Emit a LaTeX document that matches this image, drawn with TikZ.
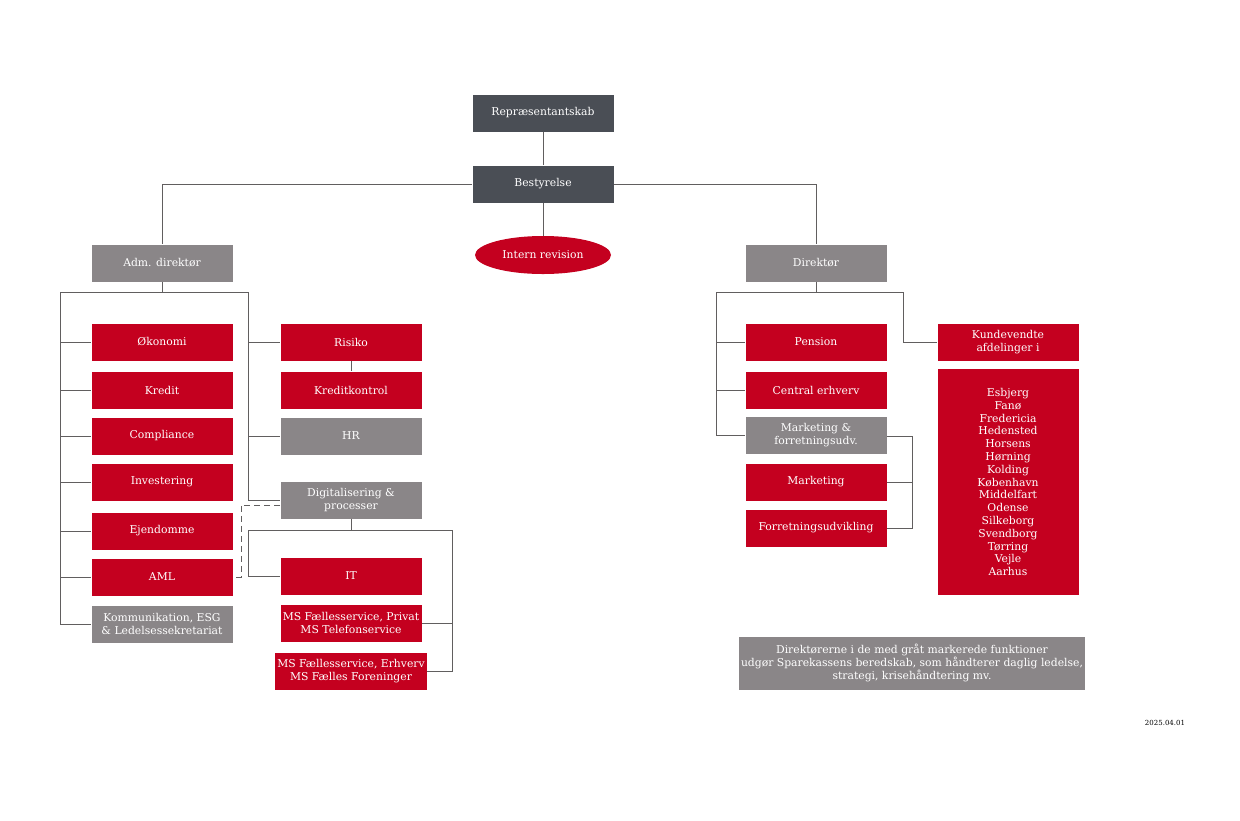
\documentclass[tikz,border=0pt]{standalone}
\usepackage{fontspec}
\setmainfont{DejaVu Serif}
\usetikzlibrary{positioning, shapes}
\definecolor{sred}{HTML}{C4001F}
\definecolor{sdark}{HTML}{4A4E55}
\definecolor{sgray}{HTML}{8A8688}
\begin{document}
\begin{tikzpicture}[x=0.5pt, y=-0.5pt, font=\fontsize{5.4}{6.4}\selectfont]
 \tikzstyle{box}=[rectangle, minimum width=70.5pt, minimum height=18.5pt, inner sep=1pt, text=white, align=center]
 \tikzstyle{rbox}=[box, fill=sred]
 \tikzstyle{gbox}=[box, fill=sgray]
 \tikzstyle{dbox}=[box, fill=sdark]
 \tikzstyle{line}=[draw, sgray!70!black, line width=0.35pt]

 \useasboundingbox (0,0) rectangle (1240,820);

 % top
 \node[dbox] (rep) at (543,113) {Repræsentantskab};
 \node[dbox] (bes) at (543,184) {Bestyrelse};
 \node[ellipse, fill=sred, text=white, minimum width=68pt, minimum height=19pt, inner sep=0pt] (rev) at (543,255) {Intern revision};
 \node[gbox] (adm) at (162,263) {Adm. direktør};
 \node[gbox] (dir) at (816,263) {Direktør};
 \path[line] (rep) -- (bes);
 \path[line] (bes) -- (rev);
 \path[line] (bes.west) -| (adm.north);
 \path[line] (bes.east) -| (dir.north);

 % left column
 \node[rbox] (oko) at (162,342) {Økonomi};
 \node[rbox] (kre) at (162,390) {Kredit};
 \node[rbox] (com) at (162,436) {Compliance};
 \node[rbox] (inv) at (162,482) {Investering};
 \node[rbox] (ejd) at (162,531) {Ejendomme};
 \node[rbox] (aml) at (162,577) {AML};
 \node[gbox] (kom) at (162,624) {Kommunikation, ESG\\\& Ledelsessekretariat};

 % middle column
 \node[rbox] (ris) at (351,342) {Risiko};
 \node[rbox] (kk) at (351,390) {Kreditkontrol};
 \node[gbox] (hr) at (351,436) {HR};
 \node[gbox] (dig) at (351,500) {Digitalisering \&\\processer};
 \node[rbox] (it) at (351,576) {IT};
 \node[rbox] (msp) at (351,623) {MS Fællesservice, Privat\\MS Telefonservice};
 \node[rbox] (mse) at (351,671) {MS Fællesservice, Erhverv\\MS Fælles Foreninger};

 \coordinate (a1) at (162,292);
 \coordinate (aL) at (60,292);
 \coordinate (aR) at (248,292);
 \path[line] (adm.south) -- (a1);
 \path[line] (aL) -- (aR);
 \path[line] (aL) |- (kom.west);
 \foreach \n in {oko,kre,com,inv,ejd,aml}
  \path[line] (aL |- \n.west) -- (\n.west);
 \path[line] (aR) |- (dig.west);
 \foreach \n in {ris,hr}
  \path[line] (aR |- \n.west) -- (\n.west);
 \path[line] (ris) -- (kk);

 \coordinate (d1) at (351,530);
 \coordinate (dL) at (248,530);
 \coordinate (dR) at (452,530);
 \path[line] (dig.south) -- (d1);
 \path[line] (dL) -- (dR);
 \path[line] (dL) |- (it.west);
 \path[line] (dR) |- (mse.east);
 \path[line] (dR |- msp.east) -- (msp.east);
 \path[line, densely dashed] (dig.west |- 0,505) -- (241,505) |- (aml.east);

 % right side
 \node[rbox] (pen) at (816,342) {Pension};
 \node[rbox] (cen) at (816,390) {Central erhverv};
 \node[gbox] (maf) at (816,435) {Marketing \&\\forretningsudv.};
 \node[rbox] (mar) at (816,482) {Marketing};
 \node[rbox] (for) at (816,528) {Forretningsudvikling};
 \node[rbox] (kun) at (1008,342) {Kundevendte\\afdelinger i};
 \node[fill=sred, text=white, minimum width=70.5pt, minimum height=113pt, align=center, inner sep=0pt] (byer) at (1008,482)
  {Esbjerg\\Fanø\\Fredericia\\Hedensted\\Horsens\\Hørning\\Kolding\\København\\Middelfart\\Odense\\Silkeborg\\Svendborg\\Tørring\\Vejle\\Aarhus};

 \coordinate (r1) at (816,292);
 \coordinate (rL) at (716,292);
 \coordinate (rR) at (903,292);
 \path[line] (dir.south) -- (r1);
 \path[line] (rL) -- (rR);
 \path[line] (rL) |- (maf.west);
 \foreach \n in {pen,cen}
  \path[line] (rL |- \n.west) -- (\n.west);
 \path[line] (rR) |- (kun.west);
 \coordinate (mR) at (912,436);
 \path[line] (maf.east |- mR) -- (mR) |- (for.east);
 \path[line] (mR |- mar.east) -- (mar.east);

 % note
 \node[gbox, minimum width=167.5pt, minimum height=26.5pt] (note) at (912,663)
  {Direktørerne i de med gråt markerede funktioner\\udgør Sparekassens beredskab, som håndterer daglig ledelse,\\strategi, krisehåndtering mv.};
 \node[font=\fontsize{3.5}{4}\selectfont] (dato) at (1165,723) {2025.04.01};
\end{tikzpicture}
\end{document}
